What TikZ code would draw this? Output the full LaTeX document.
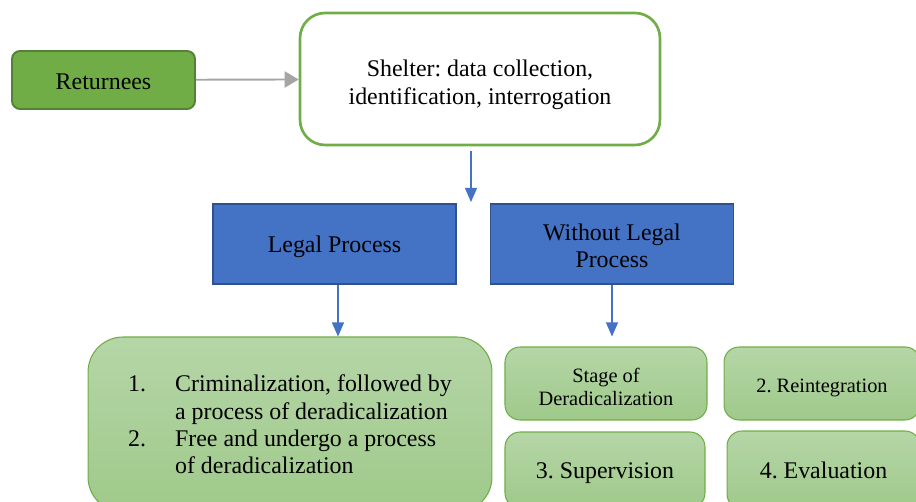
\documentclass[tikz,border=0pt]{standalone}
\usepackage{fontspec}
\setmainfont{Liberation Serif}
\usetikzlibrary{arrows.meta}
\definecolor{grass}{HTML}{70AD47}
\definecolor{grassdark}{HTML}{548235}
\definecolor{sky}{HTML}{4472C4}
\definecolor{skydark}{HTML}{2F528F}
\definecolor{leaftop}{HTML}{B5D6A7}
\definecolor{leafbot}{HTML}{9FC98A}
\definecolor{arrowgray}{HTML}{A5A5A5}
\newcommand{\lift}[1]{\rule{0pt}{#1}}
\frenchspacing

\begin{document}
\begin{tikzpicture}[x=0.02cm,y=-0.02cm,
    every node/.style={font=\fontsize{13.6}{15.6}\selectfont,align=center,inner sep=0pt},
    bluebox/.style={draw=skydark,fill=sky,line width=1.1pt,minimum width=4.86cm,minimum height=1.6cm},
    leaf/.style={draw=grass,line width=0.6pt,top color=leaftop,bottom color=leafbot,rounded corners=0.3cm},
    small/.style={font=\fontsize{11.6}{13}\selectfont},
    bluearrow/.style={sky,line width=0.6pt,-{Triangle[length=0.28cm,width=0.24cm]}}]
    \useasboundingbox (0,0) rectangle (916,502);

    \node[draw=grassdark,fill=grass,line width=1.1pt,rounded corners=0.16cm,minimum width=3.66cm,minimum height=1.16cm] (returnees) at (103.5,80) {\lift{11.5pt}Returnees};
    \node[draw=grass,fill=white,line width=1.5pt,rounded corners=0.5cm,minimum width=7.2cm,minimum height=2.64cm] (shelter) at (480,79) {\lift{16pt}Shelter: data collection,\\identification, interrogation};

    \node[bluebox] (legal) at (334.5,244) {\lift{12.6pt}Legal Process};
    \node[bluebox] (nolegal) at (612,244) {\lift{11.2pt}Without Legal\\Process};

    \node[leaf,rounded corners=0.7cm,minimum width=8.08cm,minimum height=3.5cm,align=left] (legalout) at (290,424.5) {%
        \makebox[0.94cm][l]{1.}Criminalization, followed by\\
        \hspace*{0.94cm}a process of deradicalization\\
        \makebox[0.94cm][l]{2.}Free and undergo a process\\
        \hspace*{0.94cm}of deradicalization};

    \node[leaf,small,minimum width=4.04cm,minimum height=1.46cm] (stage) at (606,383.5) {\lift{12pt}Stage of\\Deradicalization};
    \node[leaf,small,minimum width=3.92cm,minimum height=1.46cm] (reint) at (822,383.5) {\lift{12.5pt}2. Reintegration};
    \node[leaf,minimum width=4cm,minimum height=1.52cm] (superv) at (605,470) {\lift{12.6pt}3. Supervision};
    \node[leaf,minimum width=3.86cm,minimum height=1.56cm] (evalu) at (823.5,470) {4. Evaluation};

    \draw[arrowgray,line width=1.1pt,-{Triangle[length=0.28cm,width=0.32cm]}] (returnees) -- (shelter);
    \coordinate (split) at (471,202);
    \draw[bluearrow] (shelter.south -| split) ++(0,5) -- (split);
    \draw[bluearrow] ([xshift=0.07cm]legal.south) -- ([xshift=0.07cm]legal.south |- legalout.north);
    \draw[bluearrow] (nolegal.south) -- (nolegal.south |- legalout.north);
\end{tikzpicture}
\end{document}
